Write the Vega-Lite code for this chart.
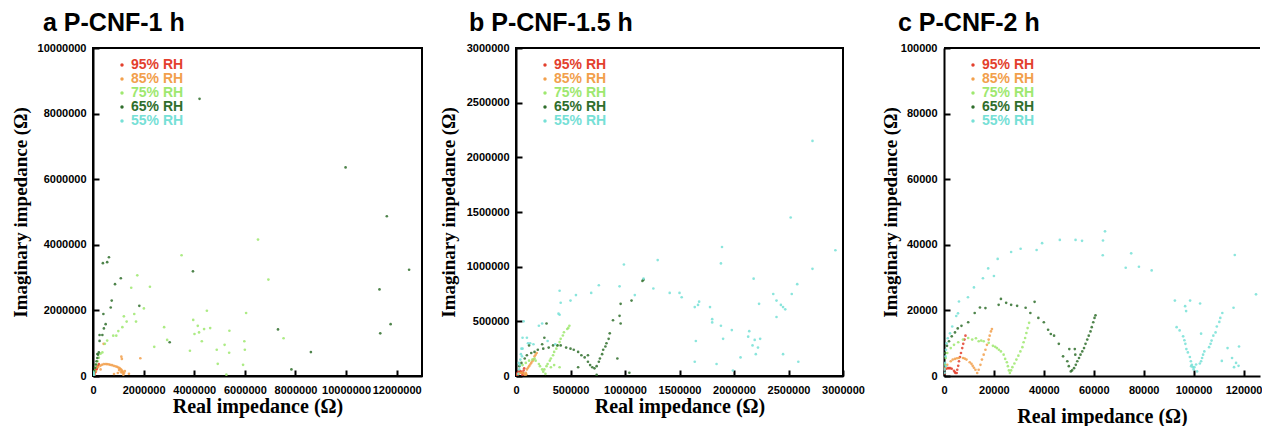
{
"$schema": "https://vega.github.io/schema/vega-lite/v6.json",
"background": "white",
"padding": {"left": 10, "top": 10, "right": 0, "bottom": 0},
"spacing": 15,
"bounds": "full",
"align": "none",
"config": {
  "view": {"stroke": "black", "strokeWidth": 2},
  "axis": {"labelFont": "Liberation Sans", "labelFontWeight": "bold", "labelFontSize": 11, "labelColor": "black", "titleFont": "Liberation Serif", "titleFontWeight": "bold", "titleFontSize": 19, "titleColor": "black", "grid": false, "domainColor": "black", "domainWidth": 2, "tickColor": "black", "tickWidth": 2, "tickSize": -6, "labelPadding": 13, "format": "d", "labelFlush": false, "labelOverlap": false},
  "axisX": {"titleFontSize": 20, "labelPadding": 14},
  "title": {"font": "Liberation Sans", "fontWeight": "bold", "fontSize": 25, "anchor": "start", "frame": "group", "color": "black"},
  "legend": {"orient": "none", "legendX": 22, "legendY": 10, "title": null, "labelFont": "Liberation Sans", "labelFontWeight": "bold", "labelFontSize": 14, "symbolType": "circle", "symbolSize": 12, "rowPadding": -2, "padding": 0, "labelOffset": 2, "symbolOpacity": 1}
},
"resolve": {"scale": {"color": "independent"}},
"datasets": {
"a": [
{"rh":"95% RH","x":20000,"y":30000},{"rh":"95% RH","x":50000,"y":80000},{"rh":"95% RH","x":80000,"y":130000},{"rh":"95% RH","x":110000,"y":180000},{"rh":"95% RH","x":140000,"y":230000},{"rh":"95% RH","x":170000,"y":280000},{"rh":"95% RH","x":200000,"y":320000},{"rh":"95% RH","x":230000,"y":360000},{"rh":"95% RH","x":30000,"y":10000},{"rh":"95% RH","x":60000,"y":40000},{"rh":"95% RH","x":100000,"y":120000},{"rh":"95% RH","x":150000,"y":210000},
{"rh":"85% RH","x":60000,"y":50000},{"rh":"85% RH","x":120000,"y":150000},{"rh":"85% RH","x":200000,"y":270000},{"rh":"85% RH","x":290000,"y":310000},{"rh":"85% RH","x":350000,"y":340000},{"rh":"85% RH","x":420000,"y":360000},{"rh":"85% RH","x":490000,"y":365000},{"rh":"85% RH","x":550000,"y":360000},{"rh":"85% RH","x":620000,"y":355000},{"rh":"85% RH","x":680000,"y":340000},{"rh":"85% RH","x":750000,"y":330000},{"rh":"85% RH","x":820000,"y":310000},{"rh":"85% RH","x":890000,"y":295000},{"rh":"85% RH","x":950000,"y":280000},{"rh":"85% RH","x":1000000,"y":260000},{"rh":"85% RH","x":1050000,"y":240000},{"rh":"85% RH","x":1090000,"y":210000},{"rh":"85% RH","x":1120000,"y":190000},{"rh":"85% RH","x":1150000,"y":160000},{"rh":"85% RH","x":1180000,"y":130000},{"rh":"85% RH","x":1230000,"y":90000},{"rh":"85% RH","x":1100000,"y":120000},{"rh":"85% RH","x":1030000,"y":180000},{"rh":"85% RH","x":1260000,"y":150000},{"rh":"85% RH","x":1140000,"y":520000},{"rh":"85% RH","x":1120000,"y":590000},{"rh":"85% RH","x":1870000,"y":540000},{"rh":"85% RH","x":420000,"y":980000},{"rh":"85% RH","x":830000,"y":60000},{"rh":"85% RH","x":1420000,"y":70000},{"rh":"85% RH","x":1200000,"y":40000},{"rh":"85% RH","x":980000,"y":90000},{"rh":"85% RH","x":1160000,"y":100000},{"rh":"85% RH","x":300000,"y":200000},
{"rh":"75% RH","x":30000,"y":60000},{"rh":"75% RH","x":60000,"y":150000},{"rh":"75% RH","x":100000,"y":250000},{"rh":"75% RH","x":140000,"y":350000},{"rh":"75% RH","x":180000,"y":450000},{"rh":"75% RH","x":230000,"y":560000},{"rh":"75% RH","x":300000,"y":680000},{"rh":"75% RH","x":370000,"y":720000},{"rh":"75% RH","x":470000,"y":980000},{"rh":"75% RH","x":560000,"y":1080000},{"rh":"75% RH","x":800000,"y":1230000},{"rh":"75% RH","x":920000,"y":1230000},{"rh":"75% RH","x":1000000,"y":1370000},{"rh":"75% RH","x":1160000,"y":1490000},{"rh":"75% RH","x":1220000,"y":1820000},{"rh":"75% RH","x":1330000,"y":1660000},{"rh":"75% RH","x":1630000,"y":1890000},{"rh":"75% RH","x":1700000,"y":1660000},{"rh":"75% RH","x":1510000,"y":2690000},{"rh":"75% RH","x":1750000,"y":3070000},{"rh":"75% RH","x":2250000,"y":2720000},{"rh":"75% RH","x":2010000,"y":2060000},{"rh":"75% RH","x":2810000,"y":1490000},{"rh":"75% RH","x":2930000,"y":1100000},{"rh":"75% RH","x":2420000,"y":890000},{"rh":"75% RH","x":3500000,"y":3680000},{"rh":"75% RH","x":3960000,"y":1710000},{"rh":"75% RH","x":4140000,"y":1530000},{"rh":"75% RH","x":4010000,"y":1280000},{"rh":"75% RH","x":4190000,"y":1330000},{"rh":"75% RH","x":4390000,"y":1430000},{"rh":"75% RH","x":4500000,"y":1990000},{"rh":"75% RH","x":4630000,"y":1460000},{"rh":"75% RH","x":4300000,"y":1060000},{"rh":"75% RH","x":3830000,"y":770000},{"rh":"75% RH","x":5390000,"y":1380000},{"rh":"75% RH","x":5200000,"y":950000},{"rh":"75% RH","x":5380000,"y":710000},{"rh":"75% RH","x":4890000,"y":800000},{"rh":"75% RH","x":4930000,"y":370000},{"rh":"75% RH","x":5270000,"y":40000},{"rh":"75% RH","x":6050000,"y":1920000},{"rh":"75% RH","x":5980000,"y":1060000},{"rh":"75% RH","x":6000000,"y":800000},{"rh":"75% RH","x":5930000,"y":340000},{"rh":"75% RH","x":6520000,"y":4160000},{"rh":"75% RH","x":6930000,"y":2940000},{"rh":"75% RH","x":7530000,"y":1150000},
{"rh":"65% RH","x":20000,"y":40000},{"rh":"65% RH","x":50000,"y":150000},{"rh":"65% RH","x":80000,"y":250000},{"rh":"65% RH","x":110000,"y":350000},{"rh":"65% RH","x":140000,"y":450000},{"rh":"65% RH","x":170000,"y":550000},{"rh":"65% RH","x":200000,"y":650000},{"rh":"65% RH","x":230000,"y":720000},{"rh":"65% RH","x":260000,"y":1070000},{"rh":"65% RH","x":260000,"y":1250000},{"rh":"65% RH","x":370000,"y":1250000},{"rh":"65% RH","x":430000,"y":1450000},{"rh":"65% RH","x":500000,"y":1580000},{"rh":"65% RH","x":410000,"y":1890000},{"rh":"65% RH","x":700000,"y":2090000},{"rh":"65% RH","x":740000,"y":2300000},{"rh":"65% RH","x":870000,"y":2800000},{"rh":"65% RH","x":1100000,"y":2980000},{"rh":"65% RH","x":390000,"y":3440000},{"rh":"65% RH","x":560000,"y":3470000},{"rh":"65% RH","x":630000,"y":3620000},{"rh":"65% RH","x":1830000,"y":2140000},{"rh":"65% RH","x":3030000,"y":1030000},{"rh":"65% RH","x":3950000,"y":3190000},{"rh":"65% RH","x":4210000,"y":8450000},{"rh":"65% RH","x":9980000,"y":6360000},{"rh":"65% RH","x":11610000,"y":4870000},{"rh":"65% RH","x":12490000,"y":3240000},{"rh":"65% RH","x":11320000,"y":2640000},{"rh":"65% RH","x":11760000,"y":1580000},{"rh":"65% RH","x":11350000,"y":1300000},{"rh":"65% RH","x":7310000,"y":1420000},{"rh":"65% RH","x":8610000,"y":730000},{"rh":"65% RH","x":7840000,"y":200000},{"rh":"65% RH","x":170000,"y":670000},
{"rh":"55% RH","x":10000,"y":20000},{"rh":"55% RH","x":20000,"y":50000},{"rh":"55% RH","x":30000,"y":90000},{"rh":"55% RH","x":15000,"y":120000},{"rh":"55% RH","x":40000,"y":30000}
],
"b": [
{"rh":"95% RH","x":5000,"y":10000},{"rh":"95% RH","x":15000,"y":30000},{"rh":"95% RH","x":25000,"y":40000},{"rh":"95% RH","x":35000,"y":45000},{"rh":"95% RH","x":45000,"y":40000},{"rh":"95% RH","x":55000,"y":25000},{"rh":"95% RH","x":60000,"y":8000},{"rh":"95% RH","x":65000,"y":30000},{"rh":"95% RH","x":70000,"y":50000},{"rh":"95% RH","x":75000,"y":70000},{"rh":"95% RH","x":10000,"y":20000},{"rh":"95% RH","x":50000,"y":35000},
{"rh":"85% RH","x":20000,"y":15000},{"rh":"85% RH","x":30000,"y":25000},{"rh":"85% RH","x":45000,"y":30000},{"rh":"85% RH","x":60000,"y":28000},{"rh":"85% RH","x":75000,"y":20000},{"rh":"85% RH","x":85000,"y":8000},{"rh":"85% RH","x":90000,"y":30000},{"rh":"85% RH","x":100000,"y":60000},{"rh":"85% RH","x":120000,"y":90000},{"rh":"85% RH","x":140000,"y":120000},{"rh":"85% RH","x":160000,"y":150000},{"rh":"85% RH","x":170000,"y":180000},{"rh":"85% RH","x":190000,"y":210000},{"rh":"85% RH","x":110000,"y":75000},{"rh":"85% RH","x":130000,"y":105000},{"rh":"85% RH","x":150000,"y":135000},{"rh":"85% RH","x":180000,"y":195000},{"rh":"85% RH","x":95000,"y":15000},
{"rh":"75% RH","x":120000,"y":140000},{"rh":"75% RH","x":150000,"y":150000},{"rh":"75% RH","x":170000,"y":160000},{"rh":"75% RH","x":180000,"y":140000},{"rh":"75% RH","x":210000,"y":110000},{"rh":"75% RH","x":220000,"y":90000},{"rh":"75% RH","x":240000,"y":60000},{"rh":"75% RH","x":250000,"y":40000},{"rh":"75% RH","x":260000,"y":60000},{"rh":"75% RH","x":280000,"y":90000},{"rh":"75% RH","x":290000,"y":110000},{"rh":"75% RH","x":310000,"y":140000},{"rh":"75% RH","x":320000,"y":160000},{"rh":"75% RH","x":340000,"y":190000},{"rh":"75% RH","x":350000,"y":220000},{"rh":"75% RH","x":370000,"y":250000},{"rh":"75% RH","x":380000,"y":280000},{"rh":"75% RH","x":400000,"y":310000},{"rh":"75% RH","x":410000,"y":340000},{"rh":"75% RH","x":430000,"y":370000},{"rh":"75% RH","x":440000,"y":400000},{"rh":"75% RH","x":470000,"y":430000},{"rh":"75% RH","x":490000,"y":460000},{"rh":"75% RH","x":480000,"y":440000},{"rh":"75% RH","x":320000,"y":80000},{"rh":"75% RH","x":400000,"y":80000},{"rh":"75% RH","x":60000,"y":100000},{"rh":"75% RH","x":90000,"y":120000},{"rh":"75% RH","x":270000,"y":20000},{"rh":"75% RH","x":350000,"y":100000},
{"rh":"65% RH","x":30000,"y":90000},{"rh":"65% RH","x":50000,"y":120000},{"rh":"65% RH","x":80000,"y":160000},{"rh":"65% RH","x":100000,"y":190000},{"rh":"65% RH","x":140000,"y":210000},{"rh":"65% RH","x":170000,"y":220000},{"rh":"65% RH","x":200000,"y":240000},{"rh":"65% RH","x":250000,"y":250000},{"rh":"65% RH","x":300000,"y":260000},{"rh":"65% RH","x":340000,"y":280000},{"rh":"65% RH","x":380000,"y":280000},{"rh":"65% RH","x":410000,"y":280000},{"rh":"65% RH","x":460000,"y":260000},{"rh":"65% RH","x":500000,"y":250000},{"rh":"65% RH","x":530000,"y":240000},{"rh":"65% RH","x":570000,"y":220000},{"rh":"65% RH","x":600000,"y":190000},{"rh":"65% RH","x":630000,"y":170000},{"rh":"65% RH","x":660000,"y":130000},{"rh":"65% RH","x":680000,"y":100000},{"rh":"65% RH","x":700000,"y":80000},{"rh":"65% RH","x":720000,"y":70000},{"rh":"65% RH","x":740000,"y":90000},{"rh":"65% RH","x":760000,"y":130000},{"rh":"65% RH","x":770000,"y":160000},{"rh":"65% RH","x":790000,"y":200000},{"rh":"65% RH","x":800000,"y":240000},{"rh":"65% RH","x":820000,"y":270000},{"rh":"65% RH","x":830000,"y":300000},{"rh":"65% RH","x":850000,"y":340000},{"rh":"65% RH","x":860000,"y":390000},{"rh":"65% RH","x":890000,"y":510000},{"rh":"65% RH","x":960000,"y":480000},{"rh":"65% RH","x":950000,"y":550000},{"rh":"65% RH","x":960000,"y":660000},{"rh":"65% RH","x":1060000,"y":690000},{"rh":"65% RH","x":1170000,"y":880000},{"rh":"65% RH","x":1160000,"y":870000},{"rh":"65% RH","x":260000,"y":350000},{"rh":"65% RH","x":240000,"y":290000},{"rh":"65% RH","x":930000,"y":160000},{"rh":"65% RH","x":1040000,"y":30000},{"rh":"65% RH","x":740000,"y":10000},{"rh":"65% RH","x":570000,"y":80000},{"rh":"65% RH","x":660000,"y":190000},{"rh":"65% RH","x":280000,"y":480000},{"rh":"65% RH","x":120000,"y":280000},
{"rh":"55% RH","x":20000,"y":20000},{"rh":"55% RH","x":30000,"y":60000},{"rh":"55% RH","x":35000,"y":100000},{"rh":"55% RH","x":40000,"y":150000},{"rh":"55% RH","x":45000,"y":200000},{"rh":"55% RH","x":50000,"y":250000},{"rh":"55% RH","x":60000,"y":250000},{"rh":"55% RH","x":55000,"y":180000},{"rh":"55% RH","x":25000,"y":120000},{"rh":"55% RH","x":60000,"y":350000},{"rh":"55% RH","x":100000,"y":350000},{"rh":"55% RH","x":130000,"y":300000},{"rh":"55% RH","x":110000,"y":300000},{"rh":"55% RH","x":160000,"y":290000},{"rh":"55% RH","x":70000,"y":500000},{"rh":"55% RH","x":210000,"y":460000},{"rh":"55% RH","x":240000,"y":480000},{"rh":"55% RH","x":290000,"y":320000},{"rh":"55% RH","x":360000,"y":290000},{"rh":"55% RH","x":400000,"y":560000},{"rh":"55% RH","x":410000,"y":670000},{"rh":"55% RH","x":500000,"y":690000},{"rh":"55% RH","x":390000,"y":570000},{"rh":"55% RH","x":400000,"y":780000},{"rh":"55% RH","x":550000,"y":740000},{"rh":"55% RH","x":690000,"y":760000},{"rh":"55% RH","x":760000,"y":830000},{"rh":"55% RH","x":950000,"y":820000},{"rh":"55% RH","x":990000,"y":1020000},{"rh":"55% RH","x":1090000,"y":740000},{"rh":"55% RH","x":1260000,"y":800000},{"rh":"55% RH","x":1300000,"y":1060000},{"rh":"55% RH","x":1170000,"y":890000},{"rh":"55% RH","x":1410000,"y":760000},{"rh":"55% RH","x":1500000,"y":760000},{"rh":"55% RH","x":1520000,"y":720000},{"rh":"55% RH","x":1640000,"y":630000},{"rh":"55% RH","x":1670000,"y":650000},{"rh":"55% RH","x":1680000,"y":680000},{"rh":"55% RH","x":1780000,"y":630000},{"rh":"55% RH","x":1800000,"y":520000},{"rh":"55% RH","x":1800000,"y":490000},{"rh":"55% RH","x":1880000,"y":460000},{"rh":"55% RH","x":1900000,"y":340000},{"rh":"55% RH","x":1890000,"y":1180000},{"rh":"55% RH","x":1880000,"y":1030000},{"rh":"55% RH","x":1980000,"y":420000},{"rh":"55% RH","x":1840000,"y":110000},{"rh":"55% RH","x":1990000,"y":50000},{"rh":"55% RH","x":1640000,"y":130000},{"rh":"55% RH","x":1650000,"y":320000},{"rh":"55% RH","x":2060000,"y":170000},{"rh":"55% RH","x":2130000,"y":360000},{"rh":"55% RH","x":2140000,"y":410000},{"rh":"55% RH","x":2170000,"y":280000},{"rh":"55% RH","x":2190000,"y":330000},{"rh":"55% RH","x":2240000,"y":340000},{"rh":"55% RH","x":2220000,"y":260000},{"rh":"55% RH","x":2200000,"y":200000},{"rh":"55% RH","x":2180000,"y":890000},{"rh":"55% RH","x":2230000,"y":660000},{"rh":"55% RH","x":2360000,"y":750000},{"rh":"55% RH","x":2390000,"y":690000},{"rh":"55% RH","x":2430000,"y":650000},{"rh":"55% RH","x":2450000,"y":630000},{"rh":"55% RH","x":2470000,"y":610000},{"rh":"55% RH","x":2390000,"y":540000},{"rh":"55% RH","x":2450000,"y":200000},{"rh":"55% RH","x":2590000,"y":130000},{"rh":"55% RH","x":2520000,"y":1450000},{"rh":"55% RH","x":2580000,"y":840000},{"rh":"55% RH","x":2530000,"y":750000},{"rh":"55% RH","x":2720000,"y":980000},{"rh":"55% RH","x":2930000,"y":1150000},{"rh":"55% RH","x":2720000,"y":2150000}
],
"c": [
{"rh":"95% RH","x":0,"y":1900},{"rh":"95% RH","x":900,"y":2200},{"rh":"95% RH","x":2000,"y":2400},{"rh":"95% RH","x":3100,"y":2200},{"rh":"95% RH","x":4000,"y":1600},{"rh":"95% RH","x":4600,"y":900},{"rh":"95% RH","x":5100,"y":900},{"rh":"95% RH","x":5300,"y":1900},{"rh":"95% RH","x":5700,"y":3100},{"rh":"95% RH","x":6000,"y":4500},{"rh":"95% RH","x":6400,"y":5800},{"rh":"95% RH","x":6800,"y":7000},{"rh":"95% RH","x":7300,"y":8500},{"rh":"95% RH","x":7700,"y":9800},{"rh":"95% RH","x":8200,"y":11100},{"rh":"95% RH","x":8600,"y":12300},{"rh":"95% RH","x":300,"y":800},{"rh":"95% RH","x":1500,"y":2400},{"rh":"95% RH","x":2500,"y":2400},{"rh":"95% RH","x":4300,"y":1200},
{"rh":"85% RH","x":400,"y":2400},{"rh":"85% RH","x":1300,"y":3400},{"rh":"85% RH","x":2700,"y":4500},{"rh":"85% RH","x":4400,"y":5200},{"rh":"85% RH","x":6000,"y":5500},{"rh":"85% RH","x":7600,"y":5500},{"rh":"85% RH","x":9000,"y":5000},{"rh":"85% RH","x":10300,"y":4200},{"rh":"85% RH","x":11500,"y":3100},{"rh":"85% RH","x":12600,"y":1900},{"rh":"85% RH","x":13300,"y":900},{"rh":"85% RH","x":13900,"y":1900},{"rh":"85% RH","x":14600,"y":3400},{"rh":"85% RH","x":15200,"y":5000},{"rh":"85% RH","x":15900,"y":6500},{"rh":"85% RH","x":16600,"y":8000},{"rh":"85% RH","x":17200,"y":9500},{"rh":"85% RH","x":17900,"y":11100},{"rh":"85% RH","x":18300,"y":12300},{"rh":"85% RH","x":18800,"y":13600},{"rh":"85% RH","x":3500,"y":5000},{"rh":"85% RH","x":5200,"y":5400},{"rh":"85% RH","x":8300,"y":5300},{"rh":"85% RH","x":11000,"y":3700},{"rh":"85% RH","x":12000,"y":2500},{"rh":"85% RH","x":19200,"y":14300},
{"rh":"75% RH","x":700,"y":5500},{"rh":"75% RH","x":1300,"y":7000},{"rh":"75% RH","x":2700,"y":8500},{"rh":"75% RH","x":4000,"y":9500},{"rh":"75% RH","x":5700,"y":10300},{"rh":"75% RH","x":7600,"y":11100},{"rh":"75% RH","x":9700,"y":11600},{"rh":"75% RH","x":11300,"y":11100},{"rh":"75% RH","x":12800,"y":11500},{"rh":"75% RH","x":13900,"y":10600},{"rh":"75% RH","x":15900,"y":10600},{"rh":"75% RH","x":17900,"y":10100},{"rh":"75% RH","x":19600,"y":9200},{"rh":"75% RH","x":21200,"y":8500},{"rh":"75% RH","x":22800,"y":7500},{"rh":"75% RH","x":23900,"y":6500},{"rh":"75% RH","x":24500,"y":5200},{"rh":"75% RH","x":25200,"y":4200},{"rh":"75% RH","x":25600,"y":3000},{"rh":"75% RH","x":26000,"y":1700},{"rh":"75% RH","x":26400,"y":900},{"rh":"75% RH","x":26900,"y":1700},{"rh":"75% RH","x":27400,"y":2700},{"rh":"75% RH","x":28200,"y":3800},{"rh":"75% RH","x":29000,"y":5000},{"rh":"75% RH","x":29800,"y":6200},{"rh":"75% RH","x":30600,"y":7500},{"rh":"75% RH","x":31400,"y":8800},{"rh":"75% RH","x":31900,"y":10300},{"rh":"75% RH","x":32500,"y":11600},{"rh":"75% RH","x":33000,"y":13100},{"rh":"75% RH","x":33500,"y":14600},{"rh":"75% RH","x":34100,"y":16200},{"rh":"75% RH","x":300,"y":3500},{"rh":"75% RH","x":14900,"y":10800},{"rh":"75% RH","x":20500,"y":8900},{"rh":"75% RH","x":22000,"y":8000},
{"rh":"65% RH","x":400,"y":7000},{"rh":"65% RH","x":1200,"y":9200},{"rh":"65% RH","x":2000,"y":10600},{"rh":"65% RH","x":3100,"y":12100},{"rh":"65% RH","x":4400,"y":13300},{"rh":"65% RH","x":7000,"y":15300},{"rh":"65% RH","x":9700,"y":16400},{"rh":"65% RH","x":12300,"y":19200},{"rh":"65% RH","x":14400,"y":20900},{"rh":"65% RH","x":16600,"y":20700},{"rh":"65% RH","x":21900,"y":21700},{"rh":"65% RH","x":22800,"y":23500},{"rh":"65% RH","x":24900,"y":22300},{"rh":"65% RH","x":26900,"y":21700},{"rh":"65% RH","x":29300,"y":21400},{"rh":"65% RH","x":32700,"y":20800},{"rh":"65% RH","x":36300,"y":22600},{"rh":"65% RH","x":34600,"y":19200},{"rh":"65% RH","x":37800,"y":17700},{"rh":"65% RH","x":40000,"y":16400},{"rh":"65% RH","x":41700,"y":14100},{"rh":"65% RH","x":42800,"y":12800},{"rh":"65% RH","x":44100,"y":12300},{"rh":"65% RH","x":46000,"y":9800},{"rh":"65% RH","x":47700,"y":6000},{"rh":"65% RH","x":50200,"y":8200},{"rh":"65% RH","x":52400,"y":8200},{"rh":"65% RH","x":52600,"y":6500},{"rh":"65% RH","x":49400,"y":4500},{"rh":"65% RH","x":50000,"y":3000},{"rh":"65% RH","x":50800,"y":1400},{"rh":"65% RH","x":51300,"y":1700},{"rh":"65% RH","x":52100,"y":2400},{"rh":"65% RH","x":52800,"y":3400},{"rh":"65% RH","x":53400,"y":4500},{"rh":"65% RH","x":54100,"y":5500},{"rh":"65% RH","x":54700,"y":6500},{"rh":"65% RH","x":55400,"y":7500},{"rh":"65% RH","x":56100,"y":8500},{"rh":"65% RH","x":56700,"y":9800},{"rh":"65% RH","x":57400,"y":11100},{"rh":"65% RH","x":58000,"y":12300},{"rh":"65% RH","x":58700,"y":13600},{"rh":"65% RH","x":59200,"y":14900},{"rh":"65% RH","x":59800,"y":16400},{"rh":"65% RH","x":60300,"y":17700},{"rh":"65% RH","x":60700,"y":18500},{"rh":"65% RH","x":5500,"y":14500},
{"rh":"55% RH","x":200,"y":2000},{"rh":"55% RH","x":400,"y":4000},{"rh":"55% RH","x":600,"y":6000},{"rh":"55% RH","x":800,"y":8000},{"rh":"55% RH","x":1000,"y":10000},{"rh":"55% RH","x":1500,"y":11500},{"rh":"55% RH","x":300,"y":1000},{"rh":"55% RH","x":700,"y":3000},{"rh":"55% RH","x":2400,"y":13000},{"rh":"55% RH","x":3300,"y":15100},{"rh":"55% RH","x":4900,"y":18300},{"rh":"55% RH","x":5600,"y":19100},{"rh":"55% RH","x":6000,"y":22700},{"rh":"55% RH","x":9600,"y":24000},{"rh":"55% RH","x":12000,"y":27000},{"rh":"55% RH","x":15600,"y":29800},{"rh":"55% RH","x":17700,"y":32800},{"rh":"55% RH","x":20000,"y":30500},{"rh":"55% RH","x":21500,"y":35700},{"rh":"55% RH","x":26900,"y":37800},{"rh":"55% RH","x":30700,"y":38800},{"rh":"55% RH","x":37100,"y":38400},{"rh":"55% RH","x":39300,"y":40500},{"rh":"55% RH","x":46400,"y":41500},{"rh":"55% RH","x":52700,"y":41500},{"rh":"55% RH","x":55300,"y":41200},{"rh":"55% RH","x":63700,"y":41300},{"rh":"55% RH","x":64500,"y":44100},{"rh":"55% RH","x":63600,"y":36800},{"rh":"55% RH","x":75000,"y":37400},{"rh":"55% RH","x":72800,"y":33000},{"rh":"55% RH","x":78100,"y":33300},{"rh":"55% RH","x":83200,"y":32200},{"rh":"55% RH","x":116500,"y":36900},{"rh":"55% RH","x":125000,"y":24900},{"rh":"55% RH","x":92500,"y":23000},{"rh":"55% RH","x":96600,"y":21300},{"rh":"55% RH","x":97000,"y":19800},{"rh":"55% RH","x":98600,"y":23000},{"rh":"55% RH","x":102600,"y":22100},{"rh":"55% RH","x":116000,"y":20800},{"rh":"55% RH","x":111500,"y":19200},{"rh":"55% RH","x":110700,"y":17700},{"rh":"55% RH","x":110300,"y":16500},{"rh":"55% RH","x":109300,"y":15100},{"rh":"55% RH","x":108800,"y":13300},{"rh":"55% RH","x":107900,"y":12300},{"rh":"55% RH","x":107200,"y":10800},{"rh":"55% RH","x":106800,"y":9800},{"rh":"55% RH","x":106200,"y":8800},{"rh":"55% RH","x":104300,"y":7500},{"rh":"55% RH","x":103800,"y":6500},{"rh":"55% RH","x":103400,"y":5500},{"rh":"55% RH","x":103000,"y":4500},{"rh":"55% RH","x":102500,"y":3800},{"rh":"55% RH","x":93200,"y":14900},{"rh":"55% RH","x":94400,"y":13900},{"rh":"55% RH","x":95800,"y":12100},{"rh":"55% RH","x":96300,"y":10900},{"rh":"55% RH","x":96700,"y":9800},{"rh":"55% RH","x":97100,"y":8200},{"rh":"55% RH","x":97700,"y":7200},{"rh":"55% RH","x":98500,"y":5800},{"rh":"55% RH","x":98900,"y":4500},{"rh":"55% RH","x":99300,"y":3400},{"rh":"55% RH","x":99700,"y":2700},{"rh":"55% RH","x":100300,"y":2700},{"rh":"55% RH","x":101400,"y":1400},{"rh":"55% RH","x":103000,"y":12900},{"rh":"55% RH","x":113600,"y":8500},{"rh":"55% RH","x":118200,"y":9000},{"rh":"55% RH","x":111300,"y":4600},{"rh":"55% RH","x":115400,"y":5500},{"rh":"55% RH","x":117000,"y":4000},{"rh":"55% RH","x":118000,"y":3100},{"rh":"55% RH","x":116200,"y":2700},{"rh":"55% RH","x":99000,"y":3000},{"rh":"55% RH","x":100000,"y":2000},{"rh":"55% RH","x":101000,"y":3500}
]
},
"hconcat": [
{
 "title": {"text": "a P-CNF-1 h", "dx": -50, "offset": 6},
 "width": 329, "height": 328,
 "data": {"name": "a"},
 "mark": {"type": "circle", "size": 7, "opacity": 0.85, "clip": true},
 "encoding": {
  "x": {"field": "x", "type": "quantitative", "scale": {"domain": [0, 13000000], "nice": false}, "axis": {"values": [0,2000000,4000000,6000000,8000000,10000000,12000000], "title": "Real impedance (Ω)", "titlePadding": 1}},
  "y": {"field": "y", "type": "quantitative", "scale": {"domain": [0, 10000000], "nice": false}, "axis": {"values": [0,2000000,4000000,6000000,8000000,10000000], "title": "Imaginary impedance (Ω)", "titlePadding": 7}},
  "color": {"field": "rh", "type": "nominal", "scale": {"domain": ["95% RH","85% RH","75% RH","65% RH","55% RH"], "range": ["#e3402d","#f2a04c","#9ee86f","#2f6e2c","#76e0d6"]},
   "legend": {"encode": {"labels": {"update": {"fill": [{"test": "datum.value === '95% RH'", "value": "#e3402d"}, {"test": "datum.value === '85% RH'", "value": "#f2a04c"}, {"test": "datum.value === '75% RH'", "value": "#9ee86f"}, {"test": "datum.value === '65% RH'", "value": "#2f6e2c"}, {"value": "#76e0d6"}]}}}}}
 }
},
{
 "title": {"text": "b P-CNF-1.5 h", "dx": -47, "offset": 6},
 "width": 327, "height": 328,
 "data": {"name": "b"},
 "mark": {"type": "circle", "size": 7, "opacity": 0.85, "clip": true},
 "encoding": {
  "x": {"field": "x", "type": "quantitative", "scale": {"domain": [0, 3000000], "nice": false}, "axis": {"values": [0,500000,1000000,1500000,2000000,2500000,3000000], "title": "Real impedance (Ω)", "titlePadding": 1}},
  "y": {"field": "y", "type": "quantitative", "scale": {"domain": [0, 3000000], "nice": false}, "axis": {"values": [0,500000,1000000,1500000,2000000,2500000,3000000], "title": "Imaginary impedance (Ω)", "titlePadding": 8}},
  "color": {"field": "rh", "type": "nominal", "scale": {"domain": ["95% RH","85% RH","75% RH","65% RH","55% RH"], "range": ["#e3402d","#f2a04c","#9ee86f","#2f6e2c","#76e0d6"]},
   "legend": {"encode": {"labels": {"update": {"fill": [{"test": "datum.value === '95% RH'", "value": "#e3402d"}, {"test": "datum.value === '85% RH'", "value": "#f2a04c"}, {"test": "datum.value === '75% RH'", "value": "#9ee86f"}, {"test": "datum.value === '65% RH'", "value": "#2f6e2c"}, {"value": "#76e0d6"}]}}}}}
 }
},
{
 "title": {"text": "c P-CNF-2 h", "dx": -46, "offset": 6},
 "width": 316, "height": 328,
 "view": {"stroke": null},
 "layer": [
 {
  "data": {"name": "c"},
  "mark": {"type": "circle", "size": 7, "opacity": 0.85, "clip": true},
  "encoding": {
   "x": {"field": "x", "type": "quantitative", "scale": {"domain": [0, 126600], "nice": false}, "axis": {"values": [0,20000,40000,60000,80000,100000,120000], "title": "Real impedance (Ω)", "titlePadding": 11}},
   "y": {"field": "y", "type": "quantitative", "scale": {"domain": [0, 100000], "nice": false}, "axis": {"values": [0,20000,40000,60000,80000,100000], "title": "Imaginary impedance (Ω)", "titlePadding": 0}},
   "color": {"field": "rh", "type": "nominal", "scale": {"domain": ["95% RH","85% RH","75% RH","65% RH","55% RH"], "range": ["#e3402d","#f2a04c","#9ee86f","#2f6e2c","#76e0d6"]},
    "legend": {"encode": {"labels": {"update": {"fill": [{"test": "datum.value === '95% RH'", "value": "#e3402d"}, {"test": "datum.value === '85% RH'", "value": "#f2a04c"}, {"test": "datum.value === '75% RH'", "value": "#9ee86f"}, {"test": "datum.value === '65% RH'", "value": "#2f6e2c"}, {"value": "#76e0d6"}]}}}}}
  }
 },
 {
  "data": {"values": [{}]},
  "mark": {"type": "rule", "color": "black", "strokeWidth": 2},
  "encoding": {"y": {"datum": 100000, "type": "quantitative"}}
 }
 ]
}
]
}
